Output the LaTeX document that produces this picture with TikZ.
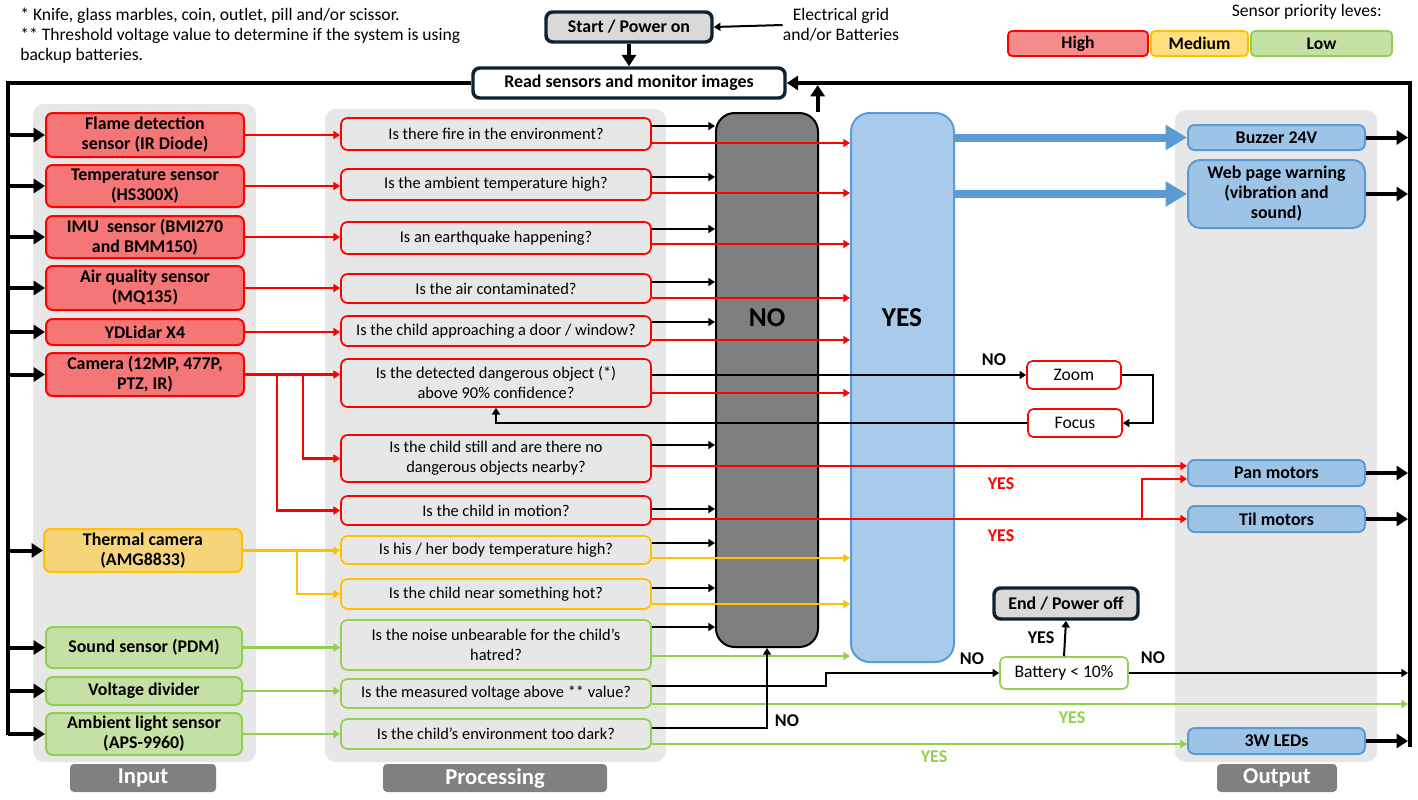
\documentclass[tikz,border=0pt]{standalone}
\usepackage{fontspec}
\setmainfont{Carlito}
\usetikzlibrary{arrows.meta,calc}

\definecolor{redfill}{HTML}{F47676}
\definecolor{redline}{HTML}{FF0000}
\definecolor{yelfill}{HTML}{F5D47A}
\definecolor{yelleg}{HTML}{FFDF80}
\definecolor{yelline}{HTML}{FFC000}
\definecolor{grnfill}{HTML}{C4E0A4}
\definecolor{grnline}{HTML}{92D050}
\definecolor{bluefill}{HTML}{9DC3E6}
\definecolor{yesfill}{HTML}{A8CBEC}
\definecolor{blueline}{HTML}{5B9BD5}
\definecolor{panelgray}{HTML}{E7E7E7}
\definecolor{taggray}{HTML}{808080}
\definecolor{nogray}{HTML}{7F7F7F}
\definecolor{navy}{HTML}{0D2233}
\definecolor{termfill}{HTML}{D9D9D9}

% node from its pixel corners: name, x1, y1, x2, y2, style, text
\newcommand\boxnode[7]{%
  \node[#6, minimum width={(#4-#2)*0.75pt}, minimum height={(#5-#3)*0.75pt}]
    (#1) at ({(#2+#4)/2},{(#3+#5)/2}) {#7};}

\tikzset{
  panel/.style={fill=panelgray, rounded corners=8pt, inner sep=0pt},
  tag/.style={fill=taggray, rounded corners=3pt, inner sep=0pt, text=white,
    font=\bfseries\fontsize{17}{19}\selectfont},
  sens/.style={line width=1.5pt, rounded corners=5pt, inner sep=0pt, align=center,
    font=\bfseries\fontsize{13.4}{15}\selectfont},
  sred/.style={sens, draw=redline, fill=redfill},
  syel/.style={sens, draw=yelline, fill=yelfill},
  sgrn/.style={sens, draw=grnline, fill=grnfill},
  qbox/.style={line width=1.3pt, rounded corners=5pt, fill=panelgray, inner sep=0pt,
    align=center, font=\fontsize{12.3}{15}\selectfont},
  qred/.style={qbox, draw=redline},
  qyel/.style={qbox, draw=yelline},
  qgrn/.style={qbox, draw=grnline},
  outbox/.style={sens, draw=blueline, fill=bluefill},
  term/.style={draw=navy, line width=2.6pt, rounded corners=5pt, inner sep=0pt,
    font=\bfseries\fontsize{13.4}{15}\selectfont},
  legend/.style={line width=1.3pt, rounded corners=3pt, inner sep=0pt,
    font=\bfseries\fontsize{13.2}{15}\selectfont},
  small/.style={draw=redline, line width=1.2pt, rounded corners=4pt, fill=white,
    inner sep=0pt, font=\fontsize{13.2}{15}\selectfont},
  lbl/.style={font=\bfseries\fontsize{13.5}{15}\selectfont, inner sep=0pt},
  note/.style={font=\fontsize{13.2}{15}\selectfont, inner sep=0pt, align=left},
  bigtxt/.style={font=\bfseries\fontsize{20.5}{24}\selectfont, inner sep=0pt},
  blk/.style={draw=black, line width=1.5pt, -{Triangle[length=5pt,width=6pt]}},
  loopln/.style={draw=black, line width=3pt},
  looparr/.style={loopln, -{Triangle[length=8.5pt,width=10.5pt]}},
  rarr/.style={draw=redline, line width=1.8pt, -{Triangle[length=5pt,width=6pt]}},
  yarr/.style={draw=yelline, line width=1.8pt, -{Triangle[length=5pt,width=6pt]}},
  garr/.style={draw=grnline, line width=1.8pt, -{Triangle[length=5pt,width=6pt]}},
  barr/.style={draw=blueline, line width=6pt, -{Triangle[length=16pt,width=18pt]}},
}

\begin{document}
\begin{tikzpicture}[x=0.75pt,y=-0.75pt]
\useasboundingbox (0,0) rectangle (1418,800);

% ---------- notes and legend ----------
\node[note, anchor=north west] (notes) at (20,8)
  {* Knife, glass marbles, coin, outlet, pill and/or scissor.\\
   ** Threshold voltage value to determine if the system is using\\
   backup batteries.};
\node[note, anchor=east] (legtitle) at (1382,12) {Sensor priority leves:};
\boxnode{high}{1008}{31}{1148}{56}{legend, draw=redline, fill=redfill!85!white}{High}
\boxnode{med}{1151}{31}{1248}{56}{legend, draw=yelline, fill=yelleg}{Medium}
\boxnode{low}{1251}{31}{1392}{56}{legend, draw=grnline, fill=grnfill}{Low}

% ---------- column panels ----------
\boxnode{pin}{33}{104}{256}{762}{panel}{}
\boxnode{pproc}{325}{109}{666}{762}{panel}{}
\boxnode{pout}{1175}{110}{1377}{762}{panel}{}
\boxnode{tin}{70}{764}{216}{792}{tag}{Input}
\boxnode{tproc}{383}{764}{607}{792}{tag}{Processing}
\boxnode{tout}{1217}{764}{1337}{792}{tag}{Output}

% ---------- start / read ----------
\boxnode{start}{546}{12}{712}{42}{term, fill=termfill}{Start / Power on}
\boxnode{rd}{473}{68}{785}{98}{term, fill=white}{Read sensors and monitor images}
\node[note, align=center, anchor=center] (elec) at (841,25) {Electrical grid\\and/or Batteries};

% ---------- inputs ----------
\boxnode{flame}{46}{113}{244}{157}{sred}{Flame detection\\sensor (IR Diode)}
\boxnode{temp}{46}{165}{244}{207}{sred}{Temperature sensor\\(HS300X)}
\boxnode{imu}{46}{216}{244}{258}{sred}{IMU\ \ sensor (BMI270\\and BMM150)}
\boxnode{air}{46}{266}{244}{310}{sred}{Air quality sensor\\(MQ135)}
\boxnode{lidar}{46}{319}{244}{345}{sred}{YDLidar X4}
\boxnode{cam}{46}{353}{244}{396}{sred}{Camera (12MP, 477P,\\PTZ, IR)}
\boxnode{therm}{44}{529}{242}{572}{syel}{Thermal camera\\(AMG8833)}
\boxnode{sound}{46}{627}{242}{668}{sgrn}{Sound sensor (PDM)}
\boxnode{volt}{46}{677}{242}{705}{sgrn}{Voltage divider}
\boxnode{amb}{46}{713}{242}{755}{sgrn}{Ambient light sensor\\(APS-9960)}

% ---------- questions ----------
\boxnode{q1}{341}{118}{651}{150}{qred}{Is there fire in the environment?}
\boxnode{q2}{341}{169}{651}{200}{qred}{Is the ambient temperature high?}
\boxnode{q3}{341}{222}{651}{254}{qred}{Is an earthquake happening?}
\boxnode{q4}{341}{274}{651}{303}{qred}{Is the air contaminated?}
\boxnode{q5}{341}{316}{651}{346}{qred}{Is the child approaching a door / window?}
\boxnode{q6}{341}{359}{651}{407}{qred}{Is the detected dangerous object (*)\\above 90\% confidence?}
\boxnode{q7}{341}{435}{651}{482}{qred}{Is the child still and are there no\\dangerous objects nearby?}
\boxnode{q8}{341}{496}{651}{525}{qred}{Is the child in motion?}
\boxnode{q9}{341}{536}{651}{564}{qyel}{Is his / her body temperature high?}
\boxnode{q10}{341}{579}{651}{609}{qyel}{Is the child near something hot?}
\boxnode{q11}{341}{620}{651}{670}{qgrn}{Is the noise unbearable for the child’s\\hatred?}
\boxnode{q12}{341}{679}{651}{708}{qgrn}{Is the measured voltage above ** value?}
\boxnode{q13}{341}{719}{651}{749}{qgrn}{Is the child's environment too dark?}

% ---------- decision columns ----------
\boxnode{no}{716}{113}{818}{647}{draw=black, line width=1.5pt, fill=nogray, rounded corners=14pt,
  inner sep=0pt}{}
\node[bigtxt] (notxt) at (767,318) {NO};
\boxnode{yes}{851}{113}{954}{662}{draw=blueline, line width=1.5pt, fill=yesfill, rounded corners=14pt,
  inner sep=0pt}{}
\node[bigtxt] (yestxt) at (902,318) {YES};

% ---------- outputs ----------
\boxnode{buzz}{1188}{125}{1365}{150}{outbox}{Buzzer 24V}
\boxnode{web}{1188}{160}{1365}{228}{outbox, rounded corners=9pt}{Web page warning\\(vibration and\\sound)}
\boxnode{pan}{1188}{460}{1365}{486}{outbox}{Pan motors}
\boxnode{til}{1188}{506}{1365}{532}{outbox}{Til motors}
\boxnode{leds}{1188}{728}{1365}{754}{outbox}{3W LEDs}

% ---------- zoom / focus, battery, end ----------
\boxnode{zoom}{1027}{361}{1121}{389}{small}{Zoom}
\boxnode{focus}{1028}{409}{1122}{437}{small}{Focus}
\boxnode{bat}{1000}{657}{1128}{689}{small, draw=grnline}{Battery < 10\%}
\boxnode{endb}{994}{588}{1138}{619}{term, fill=termfill}{End / Power off}

% ---------- main loop ----------
\coordinate (lbar) at (8,0);
\coordinate (rbar) at (1410,0);
\draw[loopln] (rd.west) -- (lbar |- rd.west) -- (lbar |- 0,735);
\draw[looparr] (rbar |- 0,747) -- (rbar |- rd.east) -- (rd.east);
\draw[looparr] (start.south) -- (rd.north);
\draw[blk] (elec.west) -- (start.east);
\draw[looparr, shorten >=1.5pt] ([xshift=-1pt]no.north east) -- ([xshift=-1pt]no.north east |- rd.east);
\foreach \s in {flame,temp,imu,air,lidar,cam,therm,sound,volt,amb}
  \draw[looparr] (lbar |- \s.west) -- (\s.west);
\foreach \s in {buzz,web,pan,til,leds}
  \draw[looparr, shorten >=1.5pt] (\s.east) -- (rbar |- \s.east);

% ---------- inputs to questions ----------
\foreach \s/\q in {flame/q1,temp/q2,imu/q3,air/q4,lidar/q5,cam/q6}
  \draw[rarr] (\s.east) -- (\q.west |- \s.east);
\draw[rarr] ([xshift=43.5pt]cam.east) |- (q7.west);
\draw[rarr] ([xshift=24pt]cam.east) |- (q8.west);
\draw[yarr] (therm.east) -- (q9.west |- therm.east);
\draw[yarr] ([xshift=40.5pt]therm.east) |- (q10.west);
\draw[garr] (sound.east) -- (q11.west |- sound.east);
\draw[garr] (volt.east) -- (q12.west |- volt.east);
\draw[garr] (amb.east) -- (q13.west |- amb.east);

% ---------- questions to NO ----------
\foreach \q/\y in {q1/126,q2/177,q3/229,q4/282,q5/322,q7/445,q8/509,q9/543,q10/588,q11/627}
  \draw[blk] (\q.east |- 0,\y) -- (no.west |- 0,\y);

% ---------- questions to YES ----------
\foreach \q/\y in {q1/143,q2/193,q3/244,q4/298,q5/340,q6/393}
  \draw[rarr] (\q.east |- 0,\y) -- (yes.west |- 0,\y);
\draw[yarr] (q9.east |- 0,558) -- (yes.west |- 0,558);
\draw[yarr] (q10.east |- 0,604) -- (yes.west |- 0,604);
\draw[garr] (q11.east |- 0,656) -- (yes.west |- 0,656);

% ---------- camera motors ----------
\draw[rarr] (q7.east |- 0,466) -- (pan.west |- 0,466);
\draw[rarr] (q8.east |- til.west) -- (til.west);
\draw[rarr] ([xshift=-33.75pt]til.west) |- (pan.west |- 0,479);
\node[lbl, text=redline] (yes1) at (1001,484) {YES};
\node[lbl, text=redline] (yes2) at (1001,536) {YES};

% ---------- dangerous object loop ----------
\draw[blk] (q6.east |- zoom.west) -- (zoom.west);
\node[lbl] (nozoom) at (994,360) {NO};
\draw[blk] (zoom.east) -- ++(31,0) |- (focus.east);
\draw[blk] (focus.west) -| (q6.south);

% ---------- alarms ----------
\draw[barr] (yes.east |- buzz.west) -- (buzz.west);
\draw[barr] (yes.east |- web.west) -- (web.west);

% ---------- power supervision ----------
\draw[blk] (q12.east |- 0,686) -- (826,686) |- (bat.west);
\node[lbl] (nobat1) at (972,659) {NO};
\draw[blk] (bat.north) -- (endb.south);
\node[lbl] (yesbat) at (1041,638) {YES};
\draw[blk, shorten >=1.5pt] (bat.east) -- (rbar |- bat.east);
\node[lbl] (nobat2) at (1153,658) {NO};
\draw[garr, shorten >=1.5pt] (q12.east |- 0,704) -- (rbar |- 0,704);
\node[lbl, text=grnline] (yesv) at (1072,718) {YES};

% ---------- darkness ----------
\draw[blk] (q13.east |- 0,728) -| (no.south);
\node[lbl] (nodark) at (787,721) {NO};
\draw[garr] (q13.east |- 0,744) -- (leds.west |- 0,744);
\node[lbl, text=grnline] (yesdark) at (934,757) {YES};
\end{tikzpicture}
\end{document}
